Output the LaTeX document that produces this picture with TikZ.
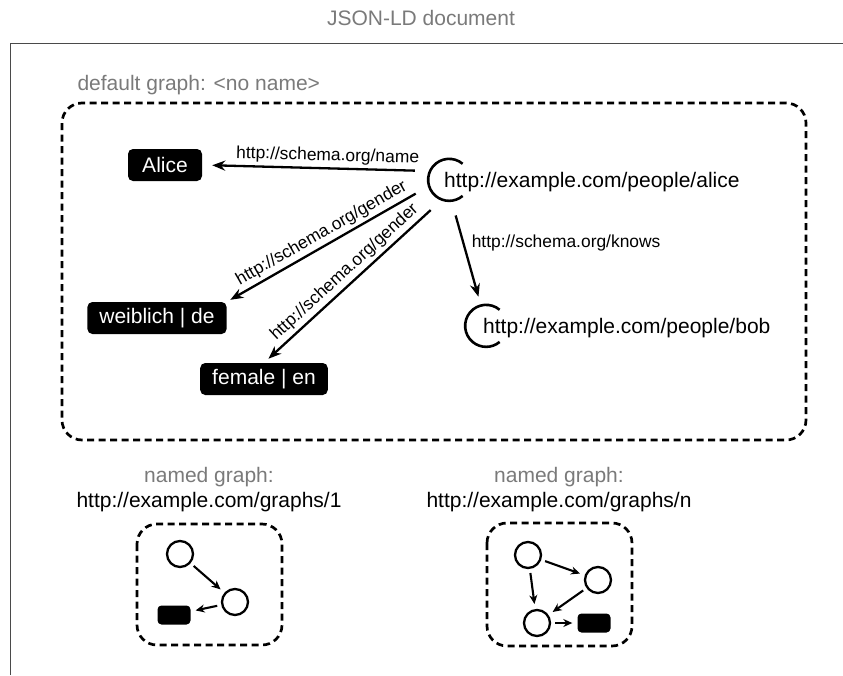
\documentclass[tikz,border=0pt]{standalone}
\usepackage{fontspec}
\setmainfont{Liberation Sans}
\usetikzlibrary{arrows.meta}
\definecolor{labelgray}{HTML}{7A7A7A}
\definecolor{framegray}{HTML}{4A4A4A}
\newcommand{\nodefont}{\fontsize{21}{25}\selectfont}
\newcommand{\edgefont}{\fontsize{17.4}{20}\selectfont}

\begin{document}
\begin{tikzpicture}[x=1pt,y=-1pt,
    graphbox/.style={draw, dash pattern=on 7pt off 4.5pt, line width=2.7pt, rounded corners=20pt},
    literal/.style={fill=black, text=white, rounded corners=5pt, font=\nodefont, inner xsep=12pt, inner ysep=0pt, minimum height=32pt, minimum width=74pt},
    iri/.style={circle, minimum size=42pt, inner sep=0pt},
    iriarc/.style={line width=2.6pt},
    iritext/.style={font=\nodefont, anchor=west, inner sep=0pt},
    rel/.style={line width=2.3pt, -{Stealth[length=13pt, width=10pt]}, shorten <=15pt},
    rellabel/.style={font=\edgefont, sloped, above, inner sep=3pt},
    dot/.style={circle, draw, line width=2.3pt, minimum size=26pt, inner sep=0pt},
    blob/.style={fill=black, rounded corners=4pt, minimum width=33pt, minimum height=19pt, inner sep=0pt},
    mini/.style={line width=2.1pt, -{Stealth[length=9pt, width=8pt]}, shorten <=4pt, shorten >=5pt},
    caption/.style={font=\nodefont, text=labelgray}]
  \useasboundingbox (0,0) rectangle (843,675);

  \node[caption] (title) at (421,18) {JSON-LD document};
  \draw[framegray, line width=1pt] (10,675) -- (10,43) -- (843,43);

  \node[caption, anchor=west] (dglabel) at (74,85) {default graph: <no name>};
  \draw[graphbox] (62,103) rectangle (806,440);

  \node[literal] (alicelit) at (165,165) {Alice};
  \node[literal] (weiblich) at (157,318) {weiblich | de};
  \node[literal] (female) at (264,379) {female | en};

  \node[iri] (alice) at (449,180) {};
  \draw[iriarc] (alice.50) arc[start angle=50, end angle=310, radius=21pt];
  \node[iritext] (alicetxt) at ([shift={(-5,2)}]alice.center) {http://example.com/people/alice};

  \node[iri] (bob) at (486,326) {};
  \draw[iriarc] (bob.50) arc[start angle=50, end angle=310, radius=21pt];
  \node[iritext] (bobtxt) at ([shift={(-3,2)}]bob.center) {http://example.com/people/bob};

  \draw[rel, shorten >=10pt] (alice.155) -- (alicelit.east)
    node[rellabel, pos=0.45] {http://schema.org/name};
  \draw[rel, shorten >=4pt] (alice.197) -- (weiblich.north east)
    node[rellabel, pos=0.5] {http://schema.org/gender};
  \draw[rel, shorten >=6pt] (alice.250) -- (female.north)
    node[rellabel, pos=0.5] {http://schema.org/gender};
  \draw[rel, shorten >=9pt] (alice.277) -- (bob.104)
    node[font=\edgefont, pos=0.4, right=4pt] {http://schema.org/knows};

  \node[caption] (ng1) at (209,477) {named graph:};
  \node[font=\nodefont] (ng1url) at (209,502) {http://example.com/graphs/1};
  \draw[graphbox] (137,524) rectangle (282,645);
  \node[dot] (a1) at (180,554) {};
  \node[dot] (b1) at (235,602) {};
  \node[blob] (l1) at (174,615) {};
  \draw[mini] (a1) -- (b1);
  \draw[mini] (b1) -- (l1);

  \node[caption] (ngn) at (559,477) {named graph:};
  \node[font=\nodefont] (ngnurl) at (559,502) {http://example.com/graphs/n};
  \draw[graphbox] (487,523) rectangle (632,646);
  \node[dot] (an) at (528,555) {};
  \node[dot] (bn) at (598,580) {};
  \node[dot] (cn) at (537,623) {};
  \node[blob] (ln) at (594,623) {};
  \draw[mini] (an) -- (bn);
  \draw[mini] (an) -- (cn);
  \draw[mini] (bn) -- (cn);
  \draw[mini] (cn) -- (ln);
\end{tikzpicture}
\end{document}
